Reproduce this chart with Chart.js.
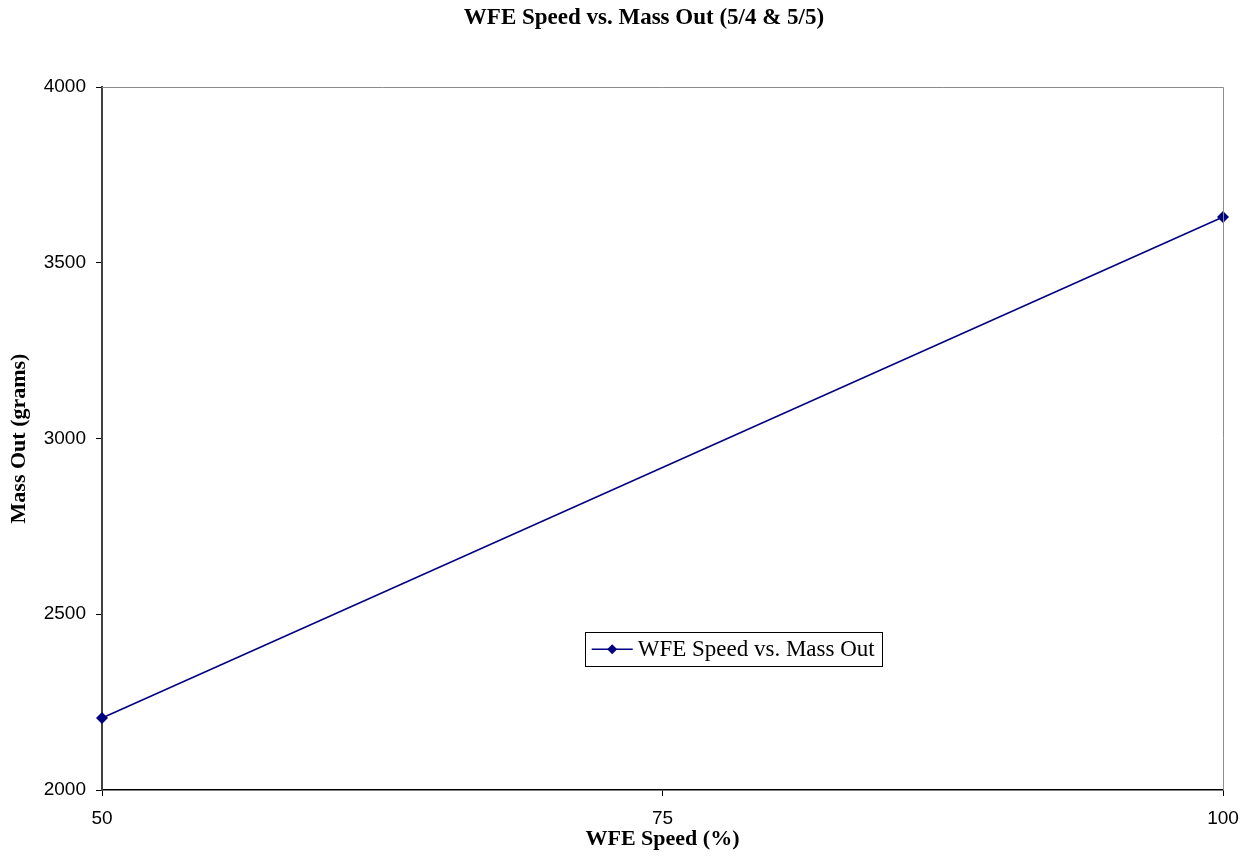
<!DOCTYPE html>
<html>
<head>
<meta charset="utf-8">
<script src="https://cdn.jsdelivr.net/npm/chart.js@4/dist/chart.umd.min.js"></script>
<style>
  html, body { margin: 0; padding: 0; background: #ffffff; }
  #wrap { width: 1256px; height: 856px; }
</style>
</head>
<body>
<div id="wrap"><canvas id="c" width="1256" height="856"></canvas></div>
<script>
// WFE speed (%) against mass collected (grams), runs of 5/4 & 5/5
const wfeSpeed = [50, 100];
const massOut = [2205, 3630];
const xTicks = [50, 75, 100];
const yTicks = [2000, 2500, 3000, 3500, 4000];

const seriesLabel = 'WFE Speed vs. Mass Out';
const chartTitle = 'WFE Speed vs. Mass Out (5/4 & 5/5)';
const xTitle = 'WFE Speed (%)';
const yTitle = 'Mass Out (grams)';

const navy = '#000080';
const serif = "'Liberation Serif', 'Times New Roman', serif";
const sans = "'Liberation Sans', Arial, sans-serif";

// Heading, frame lines on top and right, and the boxed legend inside the plot
const framePlugin = {
  id: 'frame',
  afterDraw(chart) {
    const { ctx, chartArea: a } = chart;
    ctx.save();

    // heading, centred a little right of the canvas middle
    ctx.fillStyle = '#000000';
    ctx.font = 'bold 23px ' + serif;
    ctx.textAlign = 'center';
    ctx.textBaseline = 'middle';
    ctx.fillText(chartTitle, 644, 18);

    ctx.strokeStyle = '#8c8c8c';
    ctx.lineWidth = 1;
    ctx.beginPath();
    ctx.moveTo(a.left, a.top + 0.5);
    ctx.lineTo(a.right + 0.5, a.top + 0.5);
    ctx.lineTo(a.right + 0.5, a.bottom);
    ctx.stroke();

    // legend box
    const bx = a.left + (a.right - a.left) * 0.4306;
    const by = a.top + (a.bottom - a.top) * 0.7757;
    const bw = 297, bh = 34;
    ctx.fillStyle = '#ffffff';
    ctx.fillRect(bx, by, bw, bh);
    ctx.strokeStyle = '#000000';
    ctx.lineWidth = 1;
    ctx.strokeRect(Math.round(bx) + 0.5, Math.round(by) + 0.5, bw, bh);
    const cy = by + bh / 2;
    ctx.strokeStyle = navy;
    ctx.lineWidth = 1.5;
    ctx.beginPath();
    ctx.moveTo(bx + 7, cy);
    ctx.lineTo(bx + 48, cy);
    ctx.stroke();
    ctx.fillStyle = navy;
    ctx.beginPath();
    const mx = bx + 27.5, r = 5;
    ctx.moveTo(mx, cy - r);
    ctx.lineTo(mx + r, cy);
    ctx.lineTo(mx, cy + r);
    ctx.lineTo(mx - r, cy);
    ctx.closePath();
    ctx.fill();
    ctx.fillStyle = '#000000';
    ctx.font = '23px ' + serif;
    ctx.textBaseline = 'middle';
    ctx.textAlign = 'left';
    ctx.fillText(seriesLabel, bx + 53, cy + 1);
    ctx.restore();
  }
};

new Chart(document.getElementById('c'), {
  type: 'scatter',
  data: {
    datasets: [{
      label: seriesLabel,
      data: wfeSpeed.map((x, i) => ({ x, y: massOut[i] })),
      showLine: true,
      borderColor: navy,
      backgroundColor: navy,
      borderWidth: 1.5,
      pointStyle: 'rectRot',
      pointRadius: 6,
      pointHoverRadius: 6,
      pointBorderWidth: 0,
      clip: false
    }]
  },
  options: {
    responsive: false,
    animation: false,
    events: [],
    layout: { padding: { top: 87, right: 33, bottom: 0, left: 0 } },
    plugins: {
      legend: { display: false },
      tooltip: { enabled: false },
      title: { display: false }
    },
    scales: {
      x: {
        type: 'linear',
        min: 50,
        max: 100,
        afterBuildTicks(scale) { scale.ticks = xTicks.map(v => ({ value: v })); },
        afterFit(scale) { scale.height = 66; },
        grid: {
          display: true,
          drawOnChartArea: false,
          drawTicks: true,
          tickLength: 6,
          color: '#000000',
          lineWidth: 1
        },
        border: { display: true, color: '#000000', width: 1.5 },
        ticks: {
          color: '#000000',
          font: { family: sans, size: 19 },
          padding: 11,
          maxRotation: 0,
          autoSkip: false,
          callback: v => String(v)
        },
        title: {
          display: true,
          text: xTitle,
          color: '#000000',
          font: { family: serif, size: 22, weight: 'bold', lineHeight: 1.2 },
          padding: { top: 0, bottom: 3 }
        }
      },
      y: {
        type: 'linear',
        min: 2000,
        max: 4000,
        afterBuildTicks(scale) { scale.ticks = yTicks.map(v => ({ value: v })); },
        afterFit(scale) { scale.width = 102; },
        grid: {
          display: true,
          drawOnChartArea: false,
          drawTicks: true,
          tickLength: 6,
          color: '#000000',
          lineWidth: 1
        },
        border: { display: true, color: '#404040', width: 2 },
        ticks: {
          color: '#000000',
          font: { family: sans, size: 19 },
          padding: 10,
          autoSkip: false,
          callback: v => String(v)
        },
        title: {
          display: true,
          text: yTitle,
          color: '#000000',
          font: { family: serif, size: 22, weight: 'bold', lineHeight: 1.2 },
          padding: { top: 6, bottom: 0 }
        }
      }
    }
  },
  plugins: [framePlugin]
});
</script>
</body>
</html>
